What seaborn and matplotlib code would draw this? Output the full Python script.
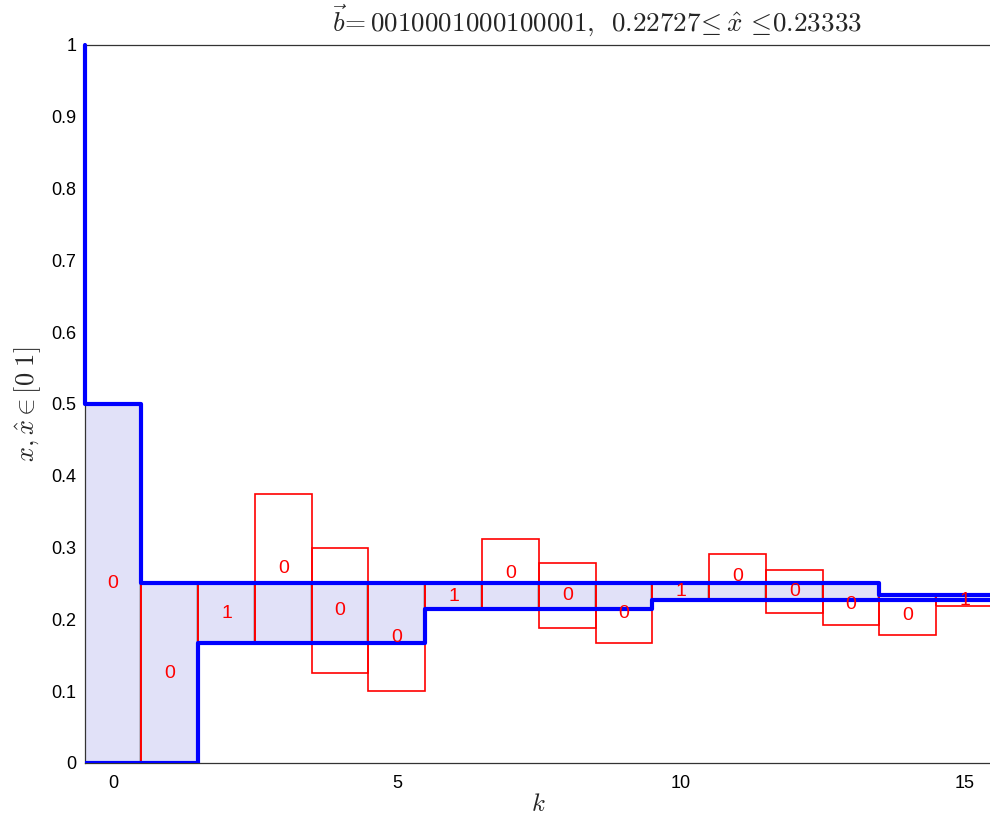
import numpy as np
import pandas as pd
import matplotlib
matplotlib.use("Agg")
import matplotlib.pyplot as plt
import matplotlib.transforms as mtransforms
import seaborn as sns

# Decoded bit at each step k
k = np.arange(16)
bits = [0, 0, 1, 0, 0, 0, 1, 0, 0, 0, 1, 0, 0, 0, 0, 1]

# Candidate interval tested at each step (red boxes)
box_lo = [0, 0, 1/6, 1/6, 1/8, 1/10, 3/14, 3/14, 3/16, 3/18,
          5/22, 5/22, 5/24, 5/26, 5/28, 7/32]
box_hi = [1/2, 1/4, 1/4, 3/8, 3/10, 1/4, 1/4, 5/16, 5/18, 5/20,
          1/4, 7/24, 7/26, 7/28, 7/30, 7/30]

# Running bounds on x-hat (blue)
bound_start = 1.0
bound_lo = [0, 0, 1/6, 1/6, 1/6, 1/6, 3/14, 3/14, 3/14, 3/14,
            5/22, 5/22, 5/22, 5/22, 5/22, 5/22]
bound_hi = [1/2, 1/4, 1/4, 1/4, 1/4, 1/4, 1/4, 1/4, 1/4, 1/4,
            1/4, 1/4, 1/4, 1/4, 7/30, 7/30]

xticks = [0, 5, 10, 15]
yticks = [0, 0.1, 0.2, 0.3, 0.4, 0.5, 0.6, 0.7, 0.8, 0.9, 1]
ytick_labels = ["0", "0.1", "0.2", "0.3", "0.4", "0.5", "0.6", "0.7", "0.8", "0.9", "1"]

sns.set_theme(style="white")
plt.rcParams["font.family"] = ["Liberation Sans", "DejaVu Sans"]
plt.rcParams["mathtext.fontset"] = "cm"

fig = plt.figure(figsize=(9.9, 8.16), dpi=100)
ax = fig.add_axes([0.0855, 0.065, 0.9175, 0.880])

lo = np.array(bound_lo)
hi = np.array(bound_hi)
blo = np.array(box_lo)
bhi = np.array(box_hi)

# shaded feasible band between the bounds
ax.bar(k, hi - lo, bottom=lo, width=1.0, color="#e1e1f8",
       edgecolor="none", linewidth=0, zorder=1)
shift = mtransforms.ScaledTranslation(-1.0 / 100, 0, fig.dpi_scale_trans)
edges = ax.bar(k, hi - lo, bottom=lo, width=1.0, fill=False,
               edgecolor="#3a3a3a", linewidth=0.9, zorder=1.5)
for p in edges.patches:
    p.set_transform(ax.transData + shift)

# red boxes for each tested interval
ax.bar(k, bhi - blo, bottom=blo, width=1.0, fill=False,
       edgecolor="#ff0000", linewidth=1.2, zorder=2)

# blue step bounds
edges_x = np.concatenate([k - 0.5, [k[-1] + 0.5]])
upper = pd.DataFrame({
    "x": np.concatenate([[edges_x[0]], edges_x]),
    "y": np.concatenate([[bound_start], hi, [hi[-1]]]),
})
lower = pd.DataFrame({
    "x": edges_x,
    "y": np.concatenate([lo, [lo[-1]]]),
})
sns.lineplot(data=upper, x="x", y="y", ax=ax, estimator=None, sort=False,
             drawstyle="steps-post", color="#0000ff", linewidth=3.0,
             zorder=3, clip_on=False)
sns.lineplot(data=lower, x="x", y="y", ax=ax, estimator=None, sort=False,
             drawstyle="steps-post", color="#0000ff", linewidth=3.0,
             zorder=3)

# bit labels in each box
for ki, b, l, h in zip(k, bits, blo, bhi):
    ax.text(ki, (l + h) / 2, str(b), color="#ff0000", fontsize=14,
            ha="center", va="center", zorder=4)

ax.set_xlim(-0.5, 15.5)
ax.set_ylim(0, 1)
ax.set_xticks(xticks)
ax.set_xticklabels([str(t) for t in xticks])
ax.set_yticks(yticks)
ax.set_yticklabels(ytick_labels)
ax.tick_params(axis="both", direction="in", length=5, width=0.8,
               colors="#000000", labelsize=13, top=False, right=False)
ax.tick_params(axis="x", pad=9)
ax.tick_params(axis="y", pad=6)
for s in ax.spines.values():
    s.set_color("#333333")
    s.set_linewidth(0.9)

ax.set_xlabel(r"$k$", fontsize=18, labelpad=0)
ax.set_ylabel(r"$x,\hat{x}\in[0\;1]$", fontsize=19, labelpad=6)
ax.set_title(r"$\vec{b}\!=0010001000100001,\ \,0.22727\!\leq\hat{x}\,\leq\!0.23333$",
             fontsize=19.5, x=0.564, pad=10)

fig.savefig("out.png", dpi=100)
